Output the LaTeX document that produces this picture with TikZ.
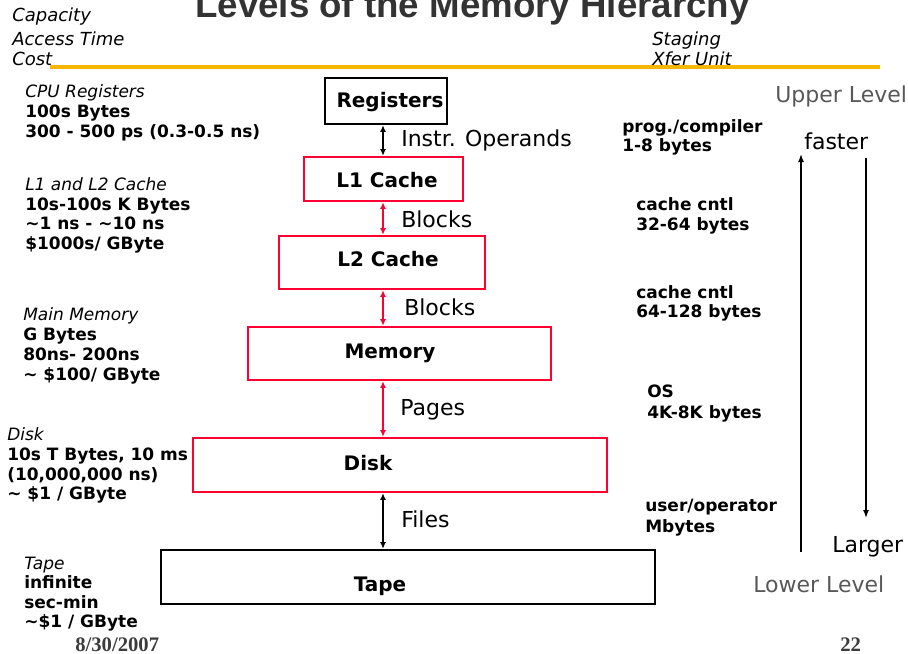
\documentclass[tikz,border=0pt]{standalone}
\usepackage{fontspec}
\setmainfont{DejaVu Sans}
\newfontfamily\titlefont{Liberation Sans}
\newfontfamily\datefont{Liberation Serif}
\usetikzlibrary{arrows.meta}
\definecolor{boxred}{RGB}{255,0,51}
\definecolor{gold}{RGB}{247,183,0}
\definecolor{titlegray}{RGB}{51,51,51}
\definecolor{levelgray}{RGB}{88,88,88}
\definecolor{dategray}{RGB}{60,60,60}
\begin{document}
\begin{tikzpicture}[x=0.75pt,y=-0.75pt,
  txt/.style={inner sep=0pt, anchor=base west},
  dat/.style={txt, font=\bfseries\fontsize{12.75}{15}\selectfont},
  hdr/.style={txt, font=\itshape\fontsize{12.75}{15}\selectfont},
  toplbl/.style={txt, font=\itshape\fontsize{13.5}{16}\selectfont},
  lbl/.style={txt, font=\fontsize{16.5}{20}\selectfont},
  lvl/.style={txt, font=\fontsize{16.5}{20}\selectfont, text=levelgray},
  boxtxt/.style={inner sep=0pt, anchor=base, font=\bfseries\fontsize{15}{18}\selectfont},
  blackbox/.style={draw=black, line width=1.8pt, inner sep=0pt},
  redbox/.style={draw=boxred, line width=1.8pt, inner sep=0pt},
  dbl/.style={{Latex[length=5pt,width=4.5pt]}-{Latex[length=5pt,width=4.5pt]}, line width=1.3pt},
  sidearr/.style={-{Latex[length=6pt,width=4.5pt]}, line width=1.1pt},
  foot/.style={txt, font=\datefont\bfseries\fontsize{15.5}{18}\selectfont, text=dategray},
]
\useasboundingbox (0,0) rectangle (908,654);

% title and header
\node[txt, font=\titlefont\bfseries\fontsize{27.5}{33}\selectfont, text=titlegray] (title) at (195,17) {Levels of the Memory Hierarchy};
\coordinate (ruleL) at (50,67);
\coordinate (ruleR) at (880,67);
\draw[gold, line width=3.6pt] (ruleL) -- (ruleR);
\node[toplbl] (cap) at (12,21) {Capacity};
\node[toplbl] (acc) at (12,45) {Access Time};
\node[toplbl] (cost) at (12,65) {Cost};
\node[toplbl] (stag) at (652,45) {Staging};
\node[toplbl] (xfer) at (652,65) {Xfer Unit};

% boxes
\node[blackbox, minimum width=91.5pt, minimum height=34.5pt] (reg) at (386,101) {};
\node[redbox, minimum width=119.25pt, minimum height=33pt] (l1) at (383.5,179) {};
\node[redbox, minimum width=154.5pt, minimum height=39.75pt] (l2) at (382,262.5) {};
\node[redbox, minimum width=227.25pt, minimum height=39.75pt] (mem) at (399.5,353.5) {};
\node[redbox, minimum width=310.5pt, minimum height=40.5pt] (disk) at (400,465) {};
\node[blackbox, minimum width=370.5pt, minimum height=40.5pt] (tape) at (408,577) {};

\node[boxtxt] (regT) at (390,107) {Registers};
\node[boxtxt] (l1T) at (387,187) {L1 Cache};
\node[boxtxt] (l2T) at (388,266) {L2 Cache};
\node[boxtxt] (memT) at (390,358) {Memory};
\node[boxtxt] (diskT) at (368,470) {Disk};
\node[boxtxt] (tapeT) at (380,591) {Tape};

% connectors
\coordinate (ax) at (383,0);
\draw[dbl] (reg.south -| ax) -- (l1.north -| ax);
\draw[dbl, boxred] (l1.south -| ax) -- (l2.north -| ax);
\draw[dbl, boxred] (l2.south -| ax) -- (mem.north -| ax);
\draw[dbl, boxred] (mem.south -| ax) -- (disk.north -| ax);
\draw[dbl] (disk.south -| ax) -- (tape.north -| ax);

\node[lbl] (instr) at (401,146) {Instr. Operands};
\node[lbl] (blk1) at (401,227) {Blocks};
\node[lbl] (blk2) at (404,315) {Blocks};
\node[lbl] (pages) at (400,415) {Pages};
\node[lbl] (files) at (401,527) {Files};

% left column
\node[hdr] (cpuH) at (25,97) {CPU Registers};
\node[dat] (cpu1) at (25,117) {100s Bytes};
\node[dat] (cpu2) at (25,137) {300 - 500 ps (0.3-0.5 ns)};
\node[hdr] (cacH) at (25,190) {L1 and L2 Cache};
\node[dat] (cac1) at (25,210) {10s-100s K Bytes};
\node[dat] (cac2) at (25,229.5) {\char`\~1 ns - \char`\~10 ns};
\node[dat] (cac3) at (25,249) {\$1000s/ GByte};
\node[hdr] (mmH) at (23,320) {Main Memory};
\node[dat] (mm1) at (23,340) {G Bytes};
\node[dat] (mm2) at (23,360) {80ns- 200ns};
\node[dat] (mm3) at (23,380) {\char`\~{} \$100/ GByte};
\node[hdr] (dkH) at (7,440) {Disk};
\node[dat] (dk1) at (7,460) {10s T Bytes, 10 ms};
\node[dat] (dk2) at (7,480) {(10,000,000 ns)};
\node[dat] (dk3) at (7,499) {\char`\~{} \$1 / GByte};
\node[hdr] (tpH) at (24,569) {Tape};
\node[dat] (tp1) at (24,588) {infinite};
\node[dat] (tp2) at (24,608) {sec-min};
\node[dat] (tp3) at (24,627) {\char`\~\$1 / GByte};

% right column
\node[dat] (r1a) at (622,132) {prog./compiler};
\node[dat] (r1b) at (622,151) {1-8 bytes};
\node[dat] (r2a) at (636,210) {cache cntl};
\node[dat] (r2b) at (636,230) {32-64 bytes};
\node[dat] (r3a) at (636,298) {cache cntl};
\node[dat] (r3b) at (636,317) {64-128 bytes};
\node[dat] (r4a) at (647,397) {OS};
\node[dat] (r4b) at (647,418) {4K-8K bytes};
\node[dat] (r5a) at (645,511) {user/operator};
\node[dat] (r5b) at (645,532) {Mbytes};

\node[lvl] (upper) at (775,102) {Upper Level};
\node[lvl] (lower) at (753,592) {Lower Level};
\node[lbl] (faster) at (804,149) {faster};
\node[lbl] (larger) at (832,552) {Larger};
\coordinate (upS) at (801,552);
\coordinate (upE) at (801,154);
\coordinate (dnS) at (866,158);
\coordinate (dnE) at (866,518);
\draw[sidearr] (upS) -- (upE);
\draw[sidearr] (dnS) -- (dnE);

% footer
\node[foot] (date) at (75,651) {8/30/2007};
\node[foot] (page) at (840,651) {22};
\end{tikzpicture}
\end{document}
